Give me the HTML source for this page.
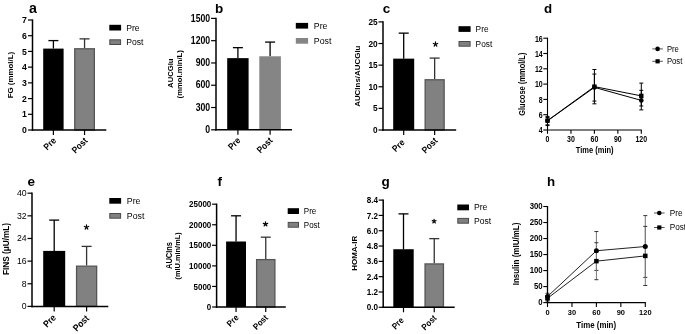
<!DOCTYPE html>
<html><head><meta charset="utf-8"><style>
html,body{margin:0;padding:0;background:#fff;width:685px;height:334px;overflow:hidden}
svg{display:block;font-family:"Liberation Sans", sans-serif;filter:grayscale(1)}
</style></head><body>
<svg width="685" height="334" viewBox="0 0 685 334">
<rect width="685" height="334" fill="#fff"/>
<text transform="translate(29.00,13.10) scale(1,1)" font-size="14.2" font-weight="bold" text-anchor="start" fill="#000" >a</text>
<line x1="28.00" y1="130.00" x2="32.50" y2="130.00" stroke="#000" stroke-width="1.2"/>
<text transform="translate(26.90,133.10) scale(1,1.05)" font-size="8.7" font-weight="bold" text-anchor="end" fill="#000" >0</text>
<line x1="28.00" y1="114.29" x2="32.50" y2="114.29" stroke="#000" stroke-width="1.2"/>
<text transform="translate(26.90,117.39) scale(1,1.05)" font-size="8.7" font-weight="bold" text-anchor="end" fill="#000" >1</text>
<line x1="28.00" y1="98.57" x2="32.50" y2="98.57" stroke="#000" stroke-width="1.2"/>
<text transform="translate(26.90,101.67) scale(1,1.05)" font-size="8.7" font-weight="bold" text-anchor="end" fill="#000" >2</text>
<line x1="28.00" y1="82.86" x2="32.50" y2="82.86" stroke="#000" stroke-width="1.2"/>
<text transform="translate(26.90,85.96) scale(1,1.05)" font-size="8.7" font-weight="bold" text-anchor="end" fill="#000" >3</text>
<line x1="28.00" y1="67.14" x2="32.50" y2="67.14" stroke="#000" stroke-width="1.2"/>
<text transform="translate(26.90,70.24) scale(1,1.05)" font-size="8.7" font-weight="bold" text-anchor="end" fill="#000" >4</text>
<line x1="28.00" y1="51.43" x2="32.50" y2="51.43" stroke="#000" stroke-width="1.2"/>
<text transform="translate(26.90,54.53) scale(1,1.05)" font-size="8.7" font-weight="bold" text-anchor="end" fill="#000" >5</text>
<line x1="28.00" y1="35.71" x2="32.50" y2="35.71" stroke="#000" stroke-width="1.2"/>
<text transform="translate(26.90,38.81) scale(1,1.05)" font-size="8.7" font-weight="bold" text-anchor="end" fill="#000" >6</text>
<line x1="28.00" y1="20.00" x2="32.50" y2="20.00" stroke="#000" stroke-width="1.2"/>
<text transform="translate(26.90,23.10) scale(1,1.05)" font-size="8.7" font-weight="bold" text-anchor="end" fill="#000" >7</text>
<line x1="53.40" y1="48.60" x2="53.40" y2="40.59" stroke="#000" stroke-width="1.3"/>
<line x1="48.40" y1="40.59" x2="58.40" y2="40.59" stroke="#000" stroke-width="1.3"/>
<rect x="43.20" y="48.60" width="20.40" height="81.40" fill="#000"/>
<line x1="53.40" y1="130.00" x2="53.40" y2="135.00" stroke="#000" stroke-width="1.2"/>
<line x1="84.55" y1="48.13" x2="84.55" y2="38.86" stroke="#333" stroke-width="1.3"/>
<line x1="79.55" y1="38.86" x2="89.55" y2="38.86" stroke="#333" stroke-width="1.3"/>
<rect x="74.75" y="48.78" width="19.60" height="81.22" fill="#818181" stroke="#555555" stroke-width="1.3"/>
<line x1="84.55" y1="130.00" x2="84.55" y2="135.00" stroke="#000" stroke-width="1.2"/>
<line x1="32.50" y1="19.40" x2="32.50" y2="130.75" stroke="#000" stroke-width="1.5"/>
<line x1="31.75" y1="130.00" x2="106.30" y2="130.00" stroke="#000" stroke-width="1.5"/>
<text transform="translate(56.70,141.30) rotate(-45) scale(1,1.12)" font-size="8.3" font-weight="bold" text-anchor="end">Pre</text>
<text transform="translate(88.10,141.30) rotate(-45) scale(1,1.12)" font-size="8.3" font-weight="bold" text-anchor="end">Post</text>
<rect x="109.30" y="24.80" width="11.80" height="5.70" fill="#000"/>
<rect x="109.80" y="39.80" width="10.80" height="4.70" fill="#808080" stroke="#4a4a4a" stroke-width="1"/>
<text transform="translate(126.20,30.60) scale(1,1.12)" font-size="8.6" font-weight="normal" text-anchor="start" fill="#000" >Pre</text>
<text transform="translate(126.20,45.10) scale(1,1.12)" font-size="8.6" font-weight="normal" text-anchor="start" fill="#000" >Post</text>
<text transform="translate(12.70,75.10) rotate(-90) scale(1,1.0)" font-size="7.9" font-weight="bold" text-anchor="middle">FG (mmol/L)</text>
<text transform="translate(215.00,13.00) scale(1,1)" font-size="13.5" font-weight="bold" text-anchor="start" fill="#000" >b</text>
<line x1="211.10" y1="129.80" x2="216.00" y2="129.80" stroke="#000" stroke-width="1.2"/>
<text transform="translate(210.20,132.90) scale(1,1.15)" font-size="8.7" font-weight="bold" text-anchor="end" fill="#000" >0</text>
<line x1="211.10" y1="107.52" x2="216.00" y2="107.52" stroke="#000" stroke-width="1.2"/>
<text transform="translate(210.20,110.62) scale(1,1.15)" font-size="8.7" font-weight="bold" text-anchor="end" fill="#000" >300</text>
<line x1="211.10" y1="85.24" x2="216.00" y2="85.24" stroke="#000" stroke-width="1.2"/>
<text transform="translate(210.20,88.34) scale(1,1.15)" font-size="8.7" font-weight="bold" text-anchor="end" fill="#000" >600</text>
<line x1="211.10" y1="62.96" x2="216.00" y2="62.96" stroke="#000" stroke-width="1.2"/>
<text transform="translate(210.20,66.06) scale(1,1.15)" font-size="8.7" font-weight="bold" text-anchor="end" fill="#000" >900</text>
<line x1="211.10" y1="40.68" x2="216.00" y2="40.68" stroke="#000" stroke-width="1.2"/>
<text transform="translate(210.20,43.78) scale(1,1.15)" font-size="8.7" font-weight="bold" text-anchor="end" fill="#000" >1200</text>
<line x1="211.10" y1="18.40" x2="216.00" y2="18.40" stroke="#000" stroke-width="1.2"/>
<text transform="translate(210.20,21.50) scale(1,1.15)" font-size="8.7" font-weight="bold" text-anchor="end" fill="#000" >1500</text>
<line x1="237.90" y1="58.13" x2="237.90" y2="47.66" stroke="#000" stroke-width="1.3"/>
<line x1="232.90" y1="47.66" x2="242.90" y2="47.66" stroke="#000" stroke-width="1.3"/>
<rect x="227.20" y="58.13" width="21.40" height="71.67" fill="#000"/>
<line x1="237.90" y1="129.80" x2="237.90" y2="134.80" stroke="#000" stroke-width="1.2"/>
<line x1="270.10" y1="56.28" x2="270.10" y2="42.09" stroke="#000" stroke-width="1.3"/>
<line x1="265.10" y1="42.09" x2="275.10" y2="42.09" stroke="#000" stroke-width="1.3"/>
<rect x="259.30" y="56.28" width="21.60" height="73.52" fill="#858585"/>
<line x1="270.10" y1="129.80" x2="270.10" y2="134.80" stroke="#000" stroke-width="1.2"/>
<line x1="216.00" y1="17.80" x2="216.00" y2="130.55" stroke="#000" stroke-width="1.5"/>
<line x1="215.25" y1="129.80" x2="292.00" y2="129.80" stroke="#000" stroke-width="1.5"/>
<text transform="translate(241.10,141.10) rotate(-45) scale(1,1.12)" font-size="8.3" font-weight="bold" text-anchor="end">Pre</text>
<text transform="translate(273.30,141.10) rotate(-45) scale(1,1.12)" font-size="8.3" font-weight="bold" text-anchor="end">Post</text>
<rect x="295.80" y="22.90" width="12.30" height="5.70" fill="#000"/>
<rect x="295.80" y="38.00" width="12.30" height="5.70" fill="#858585"/>
<text transform="translate(313.80,28.70) scale(1,1.12)" font-size="8.8" font-weight="normal" text-anchor="start" fill="#000" >Pre</text>
<text transform="translate(313.80,43.80) scale(1,1.12)" font-size="8.8" font-weight="normal" text-anchor="start" fill="#000" >Post</text>
<text transform="translate(172.80,73.20) rotate(-90) scale(1,1.05)" font-size="7.7" font-weight="bold" text-anchor="middle">AUCGlu</text>
<text transform="translate(182.30,74.25) rotate(-90) scale(1,0.95)" font-size="7.7" font-weight="bold" text-anchor="middle">(mmol.min/L)</text>
<text transform="translate(382.80,13.30) scale(1,1)" font-size="13.5" font-weight="bold" text-anchor="start" fill="#000" >c</text>
<line x1="378.50" y1="130.00" x2="383.00" y2="130.00" stroke="#000" stroke-width="1.2"/>
<text transform="translate(377.70,133.10) scale(1,1.05)" font-size="8.3" font-weight="bold" text-anchor="end" fill="#000" >0</text>
<line x1="378.50" y1="108.38" x2="383.00" y2="108.38" stroke="#000" stroke-width="1.2"/>
<text transform="translate(377.70,111.48) scale(1,1.05)" font-size="8.3" font-weight="bold" text-anchor="end" fill="#000" >5</text>
<line x1="378.50" y1="86.76" x2="383.00" y2="86.76" stroke="#000" stroke-width="1.2"/>
<text transform="translate(377.70,89.86) scale(1,1.05)" font-size="8.3" font-weight="bold" text-anchor="end" fill="#000" >10</text>
<line x1="378.50" y1="65.14" x2="383.00" y2="65.14" stroke="#000" stroke-width="1.2"/>
<text transform="translate(377.70,68.24) scale(1,1.05)" font-size="8.3" font-weight="bold" text-anchor="end" fill="#000" >15</text>
<line x1="378.50" y1="43.52" x2="383.00" y2="43.52" stroke="#000" stroke-width="1.2"/>
<text transform="translate(377.70,46.62) scale(1,1.05)" font-size="8.3" font-weight="bold" text-anchor="end" fill="#000" >20</text>
<line x1="378.50" y1="21.90" x2="383.00" y2="21.90" stroke="#000" stroke-width="1.2"/>
<text transform="translate(377.70,25.00) scale(1,1.05)" font-size="8.3" font-weight="bold" text-anchor="end" fill="#000" >25</text>
<line x1="403.70" y1="58.65" x2="403.70" y2="33.14" stroke="#000" stroke-width="1.3"/>
<line x1="398.70" y1="33.14" x2="408.70" y2="33.14" stroke="#000" stroke-width="1.3"/>
<rect x="393.20" y="58.65" width="21.00" height="71.35" fill="#000"/>
<line x1="403.70" y1="130.00" x2="403.70" y2="135.00" stroke="#000" stroke-width="1.2"/>
<line x1="434.65" y1="79.11" x2="434.65" y2="58.09" stroke="#333" stroke-width="1.3"/>
<line x1="429.65" y1="58.09" x2="439.65" y2="58.09" stroke="#333" stroke-width="1.3"/>
<rect x="425.15" y="79.76" width="19.00" height="50.24" fill="#818181" stroke="#555555" stroke-width="1.3"/>
<line x1="434.65" y1="130.00" x2="434.65" y2="135.00" stroke="#000" stroke-width="1.2"/>
<line x1="383.00" y1="21.30" x2="383.00" y2="130.75" stroke="#000" stroke-width="1.5"/>
<line x1="382.25" y1="130.00" x2="456.20" y2="130.00" stroke="#000" stroke-width="1.5"/>
<text transform="translate(405.20,143.10) rotate(-45) scale(1,1.12)" font-size="8.3" font-weight="bold" text-anchor="end">Pre</text>
<text transform="translate(438.10,141.30) rotate(-45) scale(1,1.12)" font-size="8.3" font-weight="bold" text-anchor="end">Post</text>
<rect x="458.50" y="26.20" width="12.10" height="5.70" fill="#000"/>
<rect x="459.00" y="41.50" width="11.10" height="4.70" fill="#808080" stroke="#4a4a4a" stroke-width="1"/>
<text transform="translate(475.60,32.10) scale(1,1.12)" font-size="8.3" font-weight="normal" text-anchor="start" fill="#000" >Pre</text>
<text transform="translate(475.60,46.90) scale(1,1.12)" font-size="8.3" font-weight="normal" text-anchor="start" fill="#000" >Post</text>
<path d="M435.50,44.20L435.50,41.90M435.50,44.20L437.69,43.49M435.50,44.20L436.85,46.06M435.50,44.20L434.15,46.06M435.50,44.20L433.31,43.49" stroke="#000" stroke-width="1.2" stroke-linecap="round" fill="none"/>
<text transform="translate(359.90,76.20) rotate(-90) scale(1,1.0)" font-size="7.95" font-weight="bold" text-anchor="middle">AUCIns/AUCGlu</text>
<text transform="translate(27.50,186.00) scale(1,1)" font-size="13.5" font-weight="bold" text-anchor="start" fill="#000" >e</text>
<line x1="27.50" y1="306.40" x2="32.00" y2="306.40" stroke="#000" stroke-width="1.2"/>
<text transform="translate(26.70,309.30) scale(1,1.0)" font-size="8.7" font-weight="normal" text-anchor="end" fill="#000" >0</text>
<line x1="27.50" y1="283.76" x2="32.00" y2="283.76" stroke="#000" stroke-width="1.2"/>
<text transform="translate(26.70,286.66) scale(1,1.0)" font-size="8.7" font-weight="normal" text-anchor="end" fill="#000" >8</text>
<line x1="27.50" y1="261.12" x2="32.00" y2="261.12" stroke="#000" stroke-width="1.2"/>
<text transform="translate(26.70,264.02) scale(1,1.0)" font-size="8.7" font-weight="normal" text-anchor="end" fill="#000" >16</text>
<line x1="27.50" y1="238.48" x2="32.00" y2="238.48" stroke="#000" stroke-width="1.2"/>
<text transform="translate(26.70,241.38) scale(1,1.0)" font-size="8.7" font-weight="normal" text-anchor="end" fill="#000" >24</text>
<line x1="27.50" y1="215.84" x2="32.00" y2="215.84" stroke="#000" stroke-width="1.2"/>
<text transform="translate(26.70,218.74) scale(1,1.0)" font-size="8.7" font-weight="normal" text-anchor="end" fill="#000" >32</text>
<line x1="27.50" y1="193.20" x2="32.00" y2="193.20" stroke="#000" stroke-width="1.2"/>
<text transform="translate(26.70,196.10) scale(1,1.0)" font-size="8.7" font-weight="normal" text-anchor="end" fill="#000" >40</text>
<line x1="54.20" y1="250.90" x2="54.20" y2="220.11" stroke="#000" stroke-width="1.3"/>
<line x1="49.20" y1="220.11" x2="59.20" y2="220.11" stroke="#000" stroke-width="1.3"/>
<rect x="43.20" y="250.90" width="22.00" height="55.50" fill="#000"/>
<line x1="54.20" y1="306.40" x2="54.20" y2="311.40" stroke="#000" stroke-width="1.2"/>
<line x1="86.60" y1="265.51" x2="86.60" y2="246.40" stroke="#333" stroke-width="1.3"/>
<line x1="81.60" y1="246.40" x2="91.60" y2="246.40" stroke="#333" stroke-width="1.3"/>
<rect x="76.55" y="266.16" width="20.10" height="40.24" fill="#818181" stroke="#555555" stroke-width="1.3"/>
<line x1="86.60" y1="306.40" x2="86.60" y2="311.40" stroke="#000" stroke-width="1.2"/>
<line x1="32.00" y1="192.60" x2="32.00" y2="307.15" stroke="#000" stroke-width="1.5"/>
<line x1="31.25" y1="306.40" x2="108.30" y2="306.40" stroke="#000" stroke-width="1.5"/>
<text transform="translate(56.60,318.40) rotate(-45) scale(1,1.12)" font-size="8.5" font-weight="bold" text-anchor="end">Pre</text>
<text transform="translate(89.70,318.90) rotate(-45) scale(1,1.12)" font-size="8.5" font-weight="bold" text-anchor="end">Post</text>
<rect x="109.30" y="198.00" width="11.80" height="5.70" fill="#000"/>
<rect x="109.80" y="213.50" width="10.80" height="4.70" fill="#808080" stroke="#4a4a4a" stroke-width="1"/>
<text transform="translate(126.80,203.80) scale(1,1.12)" font-size="8.8" font-weight="normal" text-anchor="start" fill="#000" >Pre</text>
<text transform="translate(126.80,218.80) scale(1,1.12)" font-size="8.8" font-weight="normal" text-anchor="start" fill="#000" >Post</text>
<path d="M86.50,227.20L86.50,224.90M86.50,227.20L88.69,226.49M86.50,227.20L87.85,229.06M86.50,227.20L85.15,229.06M86.50,227.20L84.31,226.49" stroke="#000" stroke-width="1.2" stroke-linecap="round" fill="none"/>
<text transform="translate(8.50,249.00) rotate(-90) scale(1,1.05)" font-size="8.25" font-weight="bold" text-anchor="middle">FINS (μU/mL)</text>
<text transform="translate(217.50,186.00) scale(1,1)" font-size="13.5" font-weight="bold" text-anchor="start" fill="#000" >f</text>
<line x1="212.10" y1="307.00" x2="216.60" y2="307.00" stroke="#000" stroke-width="1.2"/>
<text transform="translate(211.30,310.10) scale(1,1.05)" font-size="8.0" font-weight="bold" text-anchor="end" fill="#000" >0</text>
<line x1="212.10" y1="286.44" x2="216.60" y2="286.44" stroke="#000" stroke-width="1.2"/>
<text transform="translate(211.30,289.54) scale(1,1.05)" font-size="8.0" font-weight="bold" text-anchor="end" fill="#000" >5000</text>
<line x1="212.10" y1="265.88" x2="216.60" y2="265.88" stroke="#000" stroke-width="1.2"/>
<text transform="translate(211.30,268.98) scale(1,1.05)" font-size="8.0" font-weight="bold" text-anchor="end" fill="#000" >10000</text>
<line x1="212.10" y1="245.32" x2="216.60" y2="245.32" stroke="#000" stroke-width="1.2"/>
<text transform="translate(211.30,248.42) scale(1,1.05)" font-size="8.0" font-weight="bold" text-anchor="end" fill="#000" >15000</text>
<line x1="212.10" y1="224.76" x2="216.60" y2="224.76" stroke="#000" stroke-width="1.2"/>
<text transform="translate(211.30,227.86) scale(1,1.05)" font-size="8.0" font-weight="bold" text-anchor="end" fill="#000" >20000</text>
<line x1="212.10" y1="204.20" x2="216.60" y2="204.20" stroke="#000" stroke-width="1.2"/>
<text transform="translate(211.30,207.30) scale(1,1.05)" font-size="8.0" font-weight="bold" text-anchor="end" fill="#000" >25000</text>
<line x1="236.05" y1="241.50" x2="236.05" y2="215.80" stroke="#000" stroke-width="1.3"/>
<line x1="231.05" y1="215.80" x2="241.05" y2="215.80" stroke="#000" stroke-width="1.3"/>
<rect x="226.10" y="241.50" width="19.90" height="65.50" fill="#000"/>
<line x1="236.05" y1="307.00" x2="236.05" y2="312.00" stroke="#000" stroke-width="1.2"/>
<line x1="265.75" y1="258.97" x2="265.75" y2="237.18" stroke="#333" stroke-width="1.3"/>
<line x1="260.75" y1="237.18" x2="270.75" y2="237.18" stroke="#333" stroke-width="1.3"/>
<rect x="256.60" y="259.62" width="18.30" height="47.38" fill="#818181" stroke="#555555" stroke-width="1.3"/>
<line x1="265.75" y1="307.00" x2="265.75" y2="312.00" stroke="#000" stroke-width="1.2"/>
<line x1="216.60" y1="203.60" x2="216.60" y2="307.75" stroke="#000" stroke-width="1.5"/>
<line x1="215.85" y1="307.00" x2="285.80" y2="307.00" stroke="#000" stroke-width="1.5"/>
<text transform="translate(239.20,318.30) rotate(-45) scale(1,1.12)" font-size="7.8" font-weight="bold" text-anchor="end">Pre</text>
<text transform="translate(268.50,318.30) rotate(-45) scale(1,1.12)" font-size="7.8" font-weight="bold" text-anchor="end">Post</text>
<rect x="287.70" y="208.20" width="11.30" height="5.80" fill="#000"/>
<rect x="288.20" y="222.40" width="10.30" height="4.80" fill="#808080" stroke="#4a4a4a" stroke-width="1"/>
<text transform="translate(303.80,213.90) scale(1,1.12)" font-size="8.0" font-weight="normal" text-anchor="start" fill="#000" >Pre</text>
<text transform="translate(303.80,227.60) scale(1,1.12)" font-size="8.0" font-weight="normal" text-anchor="start" fill="#000" >Post</text>
<path d="M265.50,224.10L265.50,221.80M265.50,224.10L267.69,223.39M265.50,224.10L266.85,225.96M265.50,224.10L264.15,225.96M265.50,224.10L263.31,223.39" stroke="#000" stroke-width="1.2" stroke-linecap="round" fill="none"/>
<text transform="translate(171.70,255.50) rotate(-90) scale(1,1.12)" font-size="7.5" font-weight="bold" text-anchor="middle">AUCIns</text>
<text transform="translate(180.40,255.90) rotate(-90) scale(1,0.95)" font-size="7.4" font-weight="bold" text-anchor="middle">(mIU.min/mL)</text>
<text transform="translate(381.40,186.00) scale(1,1)" font-size="13.5" font-weight="bold" text-anchor="start" fill="#000" >g</text>
<line x1="378.70" y1="307.30" x2="383.20" y2="307.30" stroke="#000" stroke-width="1.2"/>
<text transform="translate(377.90,310.40) scale(1,1.05)" font-size="8.1" font-weight="bold" text-anchor="end" fill="#000" >0.0</text>
<line x1="378.70" y1="291.99" x2="383.20" y2="291.99" stroke="#000" stroke-width="1.2"/>
<text transform="translate(377.90,295.09) scale(1,1.05)" font-size="8.1" font-weight="bold" text-anchor="end" fill="#000" >1.2</text>
<line x1="378.70" y1="276.67" x2="383.20" y2="276.67" stroke="#000" stroke-width="1.2"/>
<text transform="translate(377.90,279.77) scale(1,1.05)" font-size="8.1" font-weight="bold" text-anchor="end" fill="#000" >2.4</text>
<line x1="378.70" y1="261.36" x2="383.20" y2="261.36" stroke="#000" stroke-width="1.2"/>
<text transform="translate(377.90,264.46) scale(1,1.05)" font-size="8.1" font-weight="bold" text-anchor="end" fill="#000" >3.6</text>
<line x1="378.70" y1="246.04" x2="383.20" y2="246.04" stroke="#000" stroke-width="1.2"/>
<text transform="translate(377.90,249.14) scale(1,1.05)" font-size="8.1" font-weight="bold" text-anchor="end" fill="#000" >4.8</text>
<line x1="378.70" y1="230.73" x2="383.20" y2="230.73" stroke="#000" stroke-width="1.2"/>
<text transform="translate(377.90,233.83) scale(1,1.05)" font-size="8.1" font-weight="bold" text-anchor="end" fill="#000" >6.0</text>
<line x1="378.70" y1="215.41" x2="383.20" y2="215.41" stroke="#000" stroke-width="1.2"/>
<text transform="translate(377.90,218.51) scale(1,1.05)" font-size="8.1" font-weight="bold" text-anchor="end" fill="#000" >7.2</text>
<line x1="378.70" y1="200.10" x2="383.20" y2="200.10" stroke="#000" stroke-width="1.2"/>
<text transform="translate(377.90,203.20) scale(1,1.05)" font-size="8.1" font-weight="bold" text-anchor="end" fill="#000" >8.4</text>
<line x1="403.50" y1="249.23" x2="403.50" y2="213.88" stroke="#000" stroke-width="1.3"/>
<line x1="398.50" y1="213.88" x2="408.50" y2="213.88" stroke="#000" stroke-width="1.3"/>
<rect x="393.30" y="249.23" width="20.40" height="58.07" fill="#000"/>
<line x1="403.50" y1="307.30" x2="403.50" y2="312.30" stroke="#000" stroke-width="1.2"/>
<line x1="434.25" y1="263.27" x2="434.25" y2="238.64" stroke="#333" stroke-width="1.3"/>
<line x1="429.25" y1="238.64" x2="439.25" y2="238.64" stroke="#333" stroke-width="1.3"/>
<rect x="425.05" y="263.92" width="18.40" height="43.38" fill="#818181" stroke="#555555" stroke-width="1.3"/>
<line x1="434.25" y1="307.30" x2="434.25" y2="312.30" stroke="#000" stroke-width="1.2"/>
<line x1="383.20" y1="199.50" x2="383.20" y2="308.05" stroke="#000" stroke-width="1.5"/>
<line x1="382.45" y1="307.30" x2="454.70" y2="307.30" stroke="#000" stroke-width="1.5"/>
<text transform="translate(404.40,320.90) rotate(-45) scale(1,1.12)" font-size="7.9" font-weight="bold" text-anchor="end">Pre</text>
<text transform="translate(437.20,318.60) rotate(-45) scale(1,1.12)" font-size="7.9" font-weight="bold" text-anchor="end">Post</text>
<rect x="457.30" y="204.50" width="11.70" height="5.80" fill="#000"/>
<rect x="457.80" y="218.40" width="10.70" height="4.80" fill="#808080" stroke="#4a4a4a" stroke-width="1"/>
<text transform="translate(474.00,210.40) scale(1,1.12)" font-size="8.6" font-weight="normal" text-anchor="start" fill="#000" >Pre</text>
<text transform="translate(474.00,223.80) scale(1,1.12)" font-size="8.6" font-weight="normal" text-anchor="start" fill="#000" >Post</text>
<path d="M434.10,221.30L434.10,219.30M434.10,221.30L436.00,220.68M434.10,221.30L435.28,222.92M434.10,221.30L432.92,222.92M434.10,221.30L432.20,220.68" stroke="#000" stroke-width="1.2" stroke-linecap="round" fill="none"/>
<text transform="translate(357.10,253.30) rotate(-90) scale(1,1.0)" font-size="8" font-weight="bold" text-anchor="middle">HOMA-IR</text>
<text transform="translate(544.00,12.80) scale(1,1)" font-size="13.3" font-weight="bold" text-anchor="start" fill="#000" >d</text>
<line x1="543.30" y1="130.00" x2="547.50" y2="130.00" stroke="#000" stroke-width="1.1"/>
<text transform="translate(542.70,133.30) scale(1,1.25)" font-size="7" font-weight="bold" text-anchor="end" fill="#000" >4</text>
<line x1="543.30" y1="114.70" x2="547.50" y2="114.70" stroke="#000" stroke-width="1.1"/>
<text transform="translate(542.70,118.00) scale(1,1.25)" font-size="7" font-weight="bold" text-anchor="end" fill="#000" >6</text>
<line x1="543.30" y1="99.40" x2="547.50" y2="99.40" stroke="#000" stroke-width="1.1"/>
<text transform="translate(542.70,102.70) scale(1,1.25)" font-size="7" font-weight="bold" text-anchor="end" fill="#000" >8</text>
<line x1="543.30" y1="84.10" x2="547.50" y2="84.10" stroke="#000" stroke-width="1.1"/>
<text transform="translate(542.70,87.40) scale(1,1.25)" font-size="7" font-weight="bold" text-anchor="end" fill="#000" >10</text>
<line x1="543.30" y1="68.80" x2="547.50" y2="68.80" stroke="#000" stroke-width="1.1"/>
<text transform="translate(542.70,72.10) scale(1,1.25)" font-size="7" font-weight="bold" text-anchor="end" fill="#000" >12</text>
<line x1="543.30" y1="53.50" x2="547.50" y2="53.50" stroke="#000" stroke-width="1.1"/>
<text transform="translate(542.70,56.80) scale(1,1.25)" font-size="7" font-weight="bold" text-anchor="end" fill="#000" >14</text>
<line x1="543.30" y1="38.20" x2="547.50" y2="38.20" stroke="#000" stroke-width="1.1"/>
<text transform="translate(542.70,41.50) scale(1,1.25)" font-size="7" font-weight="bold" text-anchor="end" fill="#000" >16</text>
<line x1="547.50" y1="130.00" x2="547.50" y2="133.80" stroke="#000" stroke-width="1.1"/>
<text transform="translate(547.50,142.00) scale(1,1.25)" font-size="7" font-weight="bold" text-anchor="middle" fill="#000" >0</text>
<line x1="570.95" y1="130.00" x2="570.95" y2="133.80" stroke="#000" stroke-width="1.1"/>
<text transform="translate(570.95,142.00) scale(1,1.25)" font-size="7" font-weight="bold" text-anchor="middle" fill="#000" >30</text>
<line x1="594.40" y1="130.00" x2="594.40" y2="133.80" stroke="#000" stroke-width="1.1"/>
<text transform="translate(594.40,142.00) scale(1,1.25)" font-size="7" font-weight="bold" text-anchor="middle" fill="#000" >60</text>
<line x1="617.85" y1="130.00" x2="617.85" y2="133.80" stroke="#000" stroke-width="1.1"/>
<text transform="translate(617.85,142.00) scale(1,1.25)" font-size="7" font-weight="bold" text-anchor="middle" fill="#000" >90</text>
<line x1="641.30" y1="130.00" x2="641.30" y2="133.80" stroke="#000" stroke-width="1.1"/>
<text transform="translate(641.30,142.00) scale(1,1.25)" font-size="7" font-weight="bold" text-anchor="middle" fill="#000" >120</text>
<polyline points="547.50,120.82 594.40,87.39 641.30,100.39" fill="none" stroke="#000" stroke-width="1.0"/>
<polyline points="547.50,120.59 594.40,86.62 641.30,95.88" fill="none" stroke="#000" stroke-width="1.0"/>
<line x1="547.50" y1="116.38" x2="547.50" y2="125.56" stroke="#000" stroke-width="1.0"/>
<line x1="545.50" y1="116.38" x2="549.50" y2="116.38" stroke="#000" stroke-width="1.0"/>
<line x1="545.50" y1="125.56" x2="549.50" y2="125.56" stroke="#000" stroke-width="1.0"/>
<line x1="594.40" y1="69.49" x2="594.40" y2="103.84" stroke="#000" stroke-width="1.0"/>
<line x1="592.40" y1="69.49" x2="596.40" y2="69.49" stroke="#000" stroke-width="1.0"/>
<line x1="592.40" y1="103.84" x2="596.40" y2="103.84" stroke="#000" stroke-width="1.0"/>
<line x1="641.30" y1="90.30" x2="641.30" y2="109.88" stroke="#000" stroke-width="1.0"/>
<line x1="639.30" y1="90.30" x2="643.30" y2="90.30" stroke="#000" stroke-width="1.0"/>
<line x1="639.30" y1="109.88" x2="643.30" y2="109.88" stroke="#000" stroke-width="1.0"/>
<line x1="547.50" y1="117.53" x2="547.50" y2="124.80" stroke="#000" stroke-width="1.0"/>
<line x1="545.50" y1="117.53" x2="549.50" y2="117.53" stroke="#000" stroke-width="1.0"/>
<line x1="545.50" y1="124.80" x2="549.50" y2="124.80" stroke="#000" stroke-width="1.0"/>
<line x1="594.40" y1="74.08" x2="594.40" y2="101.08" stroke="#000" stroke-width="1.0"/>
<line x1="592.40" y1="74.08" x2="596.40" y2="74.08" stroke="#000" stroke-width="1.0"/>
<line x1="592.40" y1="101.08" x2="596.40" y2="101.08" stroke="#000" stroke-width="1.0"/>
<line x1="641.30" y1="83.11" x2="641.30" y2="105.98" stroke="#000" stroke-width="1.0"/>
<line x1="639.30" y1="83.11" x2="643.30" y2="83.11" stroke="#000" stroke-width="1.0"/>
<line x1="639.30" y1="105.98" x2="643.30" y2="105.98" stroke="#000" stroke-width="1.0"/>
<circle cx="547.50" cy="120.82" r="2.3" fill="#000"/>
<circle cx="594.40" cy="87.39" r="2.3" fill="#000"/>
<circle cx="641.30" cy="100.39" r="2.3" fill="#000"/>
<rect x="545.30" y="118.39" width="4.40" height="4.40" fill="#000"/>
<rect x="592.20" y="84.42" width="4.40" height="4.40" fill="#000"/>
<rect x="639.10" y="93.68" width="4.40" height="4.40" fill="#000"/>
<line x1="547.50" y1="37.70" x2="547.50" y2="130.55" stroke="#000" stroke-width="1.1"/>
<line x1="546.95" y1="130.00" x2="641.80" y2="130.00" stroke="#000" stroke-width="1.1"/>
<line x1="652.30" y1="48.90" x2="662.90" y2="48.90" stroke="#555" stroke-width="1.0"/>
<circle cx="657.60" cy="48.90" r="2.3" fill="#000"/>
<text transform="translate(666.90,51.60) scale(1,1.12)" font-size="7.7" font-weight="normal" text-anchor="start" fill="#000" >Pre</text>
<line x1="652.30" y1="61.30" x2="662.90" y2="61.30" stroke="#555" stroke-width="1.0"/>
<rect x="655.50" y="59.20" width="4.20" height="4.20" fill="#000"/>
<text transform="translate(666.90,64.00) scale(1,1.12)" font-size="7.7" font-weight="normal" text-anchor="start" fill="#000" >Post</text>
<text transform="translate(524.90,84.20) rotate(-90) scale(1,1.12)" font-size="7.5" font-weight="bold" text-anchor="middle">Glucose (mmol/L)</text>
<text transform="translate(594.70,153.00) scale(1,1.12)" font-size="7.5" font-weight="bold" text-anchor="middle" fill="#000" >Time (min)</text>
<text transform="translate(547.00,186.00) scale(1,1)" font-size="13.3" font-weight="bold" text-anchor="start" fill="#000" >h</text>
<line x1="543.30" y1="302.60" x2="547.50" y2="302.60" stroke="#000" stroke-width="1.1"/>
<text transform="translate(542.70,305.20) scale(1,1.05)" font-size="7.8" font-weight="bold" text-anchor="end" fill="#000" >0</text>
<line x1="543.30" y1="286.58" x2="547.50" y2="286.58" stroke="#000" stroke-width="1.1"/>
<text transform="translate(542.70,289.18) scale(1,1.05)" font-size="7.8" font-weight="bold" text-anchor="end" fill="#000" >50</text>
<line x1="543.30" y1="270.57" x2="547.50" y2="270.57" stroke="#000" stroke-width="1.1"/>
<text transform="translate(542.70,273.17) scale(1,1.05)" font-size="7.8" font-weight="bold" text-anchor="end" fill="#000" >100</text>
<line x1="543.30" y1="254.55" x2="547.50" y2="254.55" stroke="#000" stroke-width="1.1"/>
<text transform="translate(542.70,257.15) scale(1,1.05)" font-size="7.8" font-weight="bold" text-anchor="end" fill="#000" >150</text>
<line x1="543.30" y1="238.53" x2="547.50" y2="238.53" stroke="#000" stroke-width="1.1"/>
<text transform="translate(542.70,241.13) scale(1,1.05)" font-size="7.8" font-weight="bold" text-anchor="end" fill="#000" >200</text>
<line x1="543.30" y1="222.52" x2="547.50" y2="222.52" stroke="#000" stroke-width="1.1"/>
<text transform="translate(542.70,225.12) scale(1,1.05)" font-size="7.8" font-weight="bold" text-anchor="end" fill="#000" >250</text>
<line x1="543.30" y1="206.50" x2="547.50" y2="206.50" stroke="#000" stroke-width="1.1"/>
<text transform="translate(542.70,209.10) scale(1,1.05)" font-size="7.8" font-weight="bold" text-anchor="end" fill="#000" >300</text>
<line x1="547.50" y1="302.60" x2="547.50" y2="307.00" stroke="#000" stroke-width="1.1"/>
<text transform="translate(547.50,314.80) scale(1,0.97)" font-size="7.5" font-weight="bold" text-anchor="middle" fill="#000" >0</text>
<line x1="571.95" y1="302.60" x2="571.95" y2="307.00" stroke="#000" stroke-width="1.1"/>
<text transform="translate(571.95,314.80) scale(1,0.97)" font-size="7.5" font-weight="bold" text-anchor="middle" fill="#000" >30</text>
<line x1="596.40" y1="302.60" x2="596.40" y2="307.00" stroke="#000" stroke-width="1.1"/>
<text transform="translate(596.40,314.80) scale(1,0.97)" font-size="7.5" font-weight="bold" text-anchor="middle" fill="#000" >60</text>
<line x1="620.85" y1="302.60" x2="620.85" y2="307.00" stroke="#000" stroke-width="1.1"/>
<text transform="translate(620.85,314.80) scale(1,0.97)" font-size="7.5" font-weight="bold" text-anchor="middle" fill="#000" >90</text>
<line x1="645.30" y1="302.60" x2="645.30" y2="307.00" stroke="#000" stroke-width="1.1"/>
<text transform="translate(645.30,314.80) scale(1,0.97)" font-size="7.5" font-weight="bold" text-anchor="middle" fill="#000" >120</text>
<polyline points="547.50,296.51 596.40,250.74 645.30,246.51" fill="none" stroke="#222" stroke-width="1.0"/>
<polyline points="547.50,298.31 596.40,261.15 645.30,255.90" fill="none" stroke="#222" stroke-width="1.0"/>
<line x1="547.50" y1="293.31" x2="547.50" y2="299.40" stroke="#777" stroke-width="1.0"/>
<line x1="545.50" y1="293.31" x2="549.50" y2="293.31" stroke="#333" stroke-width="1.0"/>
<line x1="545.50" y1="299.40" x2="549.50" y2="299.40" stroke="#333" stroke-width="1.0"/>
<line x1="596.40" y1="231.55" x2="596.40" y2="270.41" stroke="#777" stroke-width="1.0"/>
<line x1="594.40" y1="231.55" x2="598.40" y2="231.55" stroke="#333" stroke-width="1.0"/>
<line x1="594.40" y1="270.41" x2="598.40" y2="270.41" stroke="#333" stroke-width="1.0"/>
<line x1="645.30" y1="215.60" x2="645.30" y2="277.39" stroke="#777" stroke-width="1.0"/>
<line x1="643.30" y1="215.60" x2="647.30" y2="215.60" stroke="#333" stroke-width="1.0"/>
<line x1="643.30" y1="277.39" x2="647.30" y2="277.39" stroke="#333" stroke-width="1.0"/>
<line x1="547.50" y1="295.55" x2="547.50" y2="301.00" stroke="#777" stroke-width="1.0"/>
<line x1="545.50" y1="295.55" x2="549.50" y2="295.55" stroke="#333" stroke-width="1.0"/>
<line x1="545.50" y1="301.00" x2="549.50" y2="301.00" stroke="#333" stroke-width="1.0"/>
<line x1="596.40" y1="242.70" x2="596.40" y2="279.70" stroke="#777" stroke-width="1.0"/>
<line x1="594.40" y1="242.70" x2="598.40" y2="242.70" stroke="#333" stroke-width="1.0"/>
<line x1="594.40" y1="279.70" x2="598.40" y2="279.70" stroke="#333" stroke-width="1.0"/>
<line x1="645.30" y1="226.39" x2="645.30" y2="285.49" stroke="#777" stroke-width="1.0"/>
<line x1="643.30" y1="226.39" x2="647.30" y2="226.39" stroke="#333" stroke-width="1.0"/>
<line x1="643.30" y1="285.49" x2="647.30" y2="285.49" stroke="#333" stroke-width="1.0"/>
<circle cx="547.50" cy="296.51" r="2.5" fill="#000"/>
<circle cx="596.40" cy="250.74" r="2.5" fill="#000"/>
<circle cx="645.30" cy="246.51" r="2.5" fill="#000"/>
<rect x="545.25" y="296.06" width="4.50" height="4.50" fill="#000"/>
<rect x="594.15" y="258.90" width="4.50" height="4.50" fill="#000"/>
<rect x="643.05" y="253.65" width="4.50" height="4.50" fill="#000"/>
<line x1="547.50" y1="206.00" x2="547.50" y2="303.25" stroke="#000" stroke-width="1.3"/>
<line x1="546.85" y1="302.60" x2="645.80" y2="302.60" stroke="#000" stroke-width="1.3"/>
<line x1="654.00" y1="213.00" x2="664.60" y2="213.00" stroke="#555" stroke-width="1.0"/>
<circle cx="659.30" cy="213.00" r="2.3" fill="#000"/>
<text transform="translate(669.70,215.70) scale(1,1.12)" font-size="8.2" font-weight="normal" text-anchor="start" fill="#000" >Pre</text>
<line x1="654.00" y1="227.50" x2="664.60" y2="227.50" stroke="#555" stroke-width="1.0"/>
<rect x="657.20" y="225.40" width="4.20" height="4.20" fill="#000"/>
<text transform="translate(669.70,230.20) scale(1,1.12)" font-size="8.2" font-weight="normal" text-anchor="start" fill="#000" >Post</text>
<text transform="translate(519.40,254.00) rotate(-90) scale(1,1.12)" font-size="8.0" font-weight="bold" text-anchor="middle">Insulin (mIU/mL)</text>
<text transform="translate(596.20,327.80) scale(1,1.12)" font-size="7.9" font-weight="bold" text-anchor="middle" fill="#000" >Time (min)</text>
</svg>
</body></html>
